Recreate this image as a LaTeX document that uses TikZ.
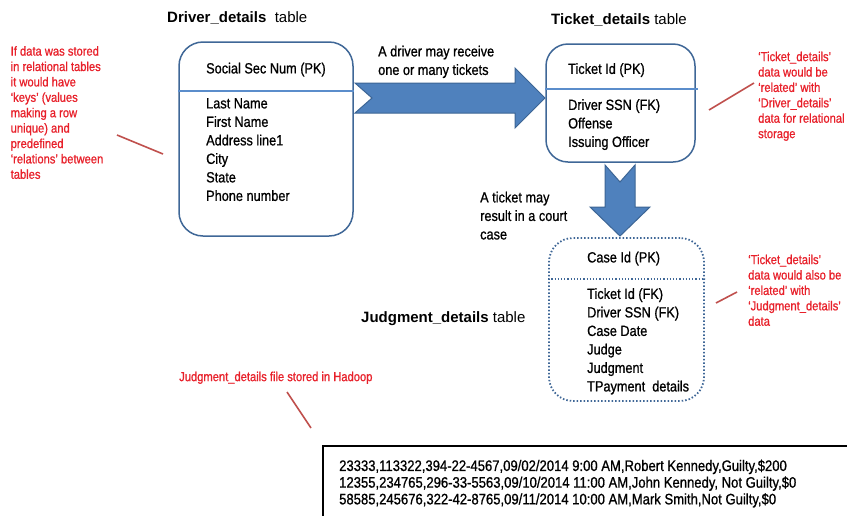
\documentclass[tikz,border=0pt]{standalone}
\usepackage{fontspec}
\setmainfont{Liberation Sans}
\newfontfamily\narrow[FakeStretch=0.86, FakeBold=0.8]{Liberation Sans}
\definecolor{boxblue}{HTML}{3F6797}
\definecolor{lineblue}{HTML}{5B8DCB}
\definecolor{arrowblue}{HTML}{4F81BD}
\definecolor{arrowedge}{HTML}{3C6595}
\definecolor{notered}{HTML}{E8202A}
\definecolor{pointred}{HTML}{C0504D}
\tikzset{
  tablebox/.style={draw=boxblue, line width=1.5pt, rounded corners=24pt, inner sep=0pt},
  divider/.style={draw=lineblue, line width=1.2pt},
  field/.style={font=\narrow\fontsize{14.8}{18.5}\selectfont, align=left, anchor=north west, inner sep=0pt},
  title/.style={font=\fontsize{15}{18}\selectfont, anchor=base west, inner sep=0pt},
  note/.style={font=\narrow\fontsize{13}{15.4}\selectfont, text=notered, align=left, anchor=north west, inner sep=0pt},
  pointer/.style={draw=pointred, line width=1.6pt},
  bigarrow/.style={fill=arrowblue, draw=arrowedge, line width=1pt, line join=miter}
}
\begin{document}
\begin{tikzpicture}[x=1pt, y=-1pt]
    \clip (0,0) rectangle (847,515);
    \fill[white] (0,0) rectangle (847,515);

    \node[title] (drvtitle) at (167,22) {\textbf{Driver\_details}\ \ table};
    \node[tablebox, minimum width=174pt, minimum height=194pt] (drv) at (266,139) {};
    \draw[divider] (drv.west |- 0,91) -- (drv.east |- 0,91);
    \node[field] (drvpk) at (206,62.5) {Social Sec Num (PK)};
    \node[field] (drvf) at (206,98) {Last Name\\First Name\\Address line1\\City\\State\\Phone number};

    \node[title] (tkttitle) at (551,24) {\textbf{Ticket\_details} table};
    \node[tablebox, rounded corners=22pt, minimum width=149pt, minimum height=118pt] (tkt) at (620.5,103) {};
    \draw[divider] (tkt.west |- 0,89) -- ([xshift=2pt]tkt.east |- 0,89);
    \node[field] (tktpk) at (568,63) {Ticket Id (PK)};
    \node[field] (tktf) at (568,99) {Driver SSN (FK)\\Offense\\Issuing Officer};

    \node[title] (jdgtitle) at (361,322.5) {\textbf{Judgment\_details} table};
    \node[tablebox, dotted, line width=1.8pt, minimum width=155pt, minimum height=163pt] (jdg) at (626.5,319.5) {};
    \draw[divider, draw=boxblue, dotted, line width=1.6pt] (jdg.west |- 0,279) -- (jdg.east |- 0,279);
    \node[field] (jdgpk) at (587,251.5) {Case Id (PK)};
    \node[field] (jdgf) at (587,288) {Ticket Id (FK)\\Driver SSN (FK)\\Case Date\\Judge\\Judgment\\TPayment\ \ details};

    \coordinate (a1) at (355,98);
    \draw[bigarrow] (a1) ++(0,-15) -- ++(160,0) -- ++(0,-15) -- ++(30,30) -- ++(-30,30)
        -- ++(0,-15) -- ++(-160,0) -- ++(17,-15) -- cycle;
    \node[field] (a1text) at (378,45.5) {A driver may receive\\one or many tickets};

    \coordinate (a2) at (605,165);
    \draw[bigarrow] (a2) -- ++(15,17) -- ++(15,-17) -- ++(0,42) -- ++(15,0) -- ++(-30,29)
        -- ++(-30,-29) -- ++(15,0) -- cycle;
    \node[field] (a2text) at (480,191.5) {A ticket may\\result in a court\\case};

    \node[note] (leftnote) at (10.5,46) {If data was stored\\in relational tables\\it would have\\‘keys’ (values\\making a row\\unique) and\\predefined\\‘relations’ between\\tables};
    \coordinate (p1a) at (117,135);
    \coordinate (p1b) at (163,154);
    \draw[pointer] (p1a) -- (p1b);

    \node[note] (rightnote1) at (758,51.5) {‘Ticket\_details’\\data would be\\‘related’ with\\‘Driver\_details’\\data for relational\\storage};
    \coordinate (p2a) at (709,110);
    \coordinate (p2b) at (754,83);
    \draw[pointer] (p2a) -- (p2b);

    \node[note] (rightnote2) at (748,254.5) {‘Ticket\_details’\\data would also be\\‘related’ with\\‘Judgment\_details’\\data};
    \coordinate (p3a) at (716,303);
    \coordinate (p3b) at (737,292);
    \draw[pointer] (p3a) -- (p3b);

    \node[note] (hdfsnote) at (179,371.5) {Judgment\_details file stored in Hadoop};
    \coordinate (p4a) at (287,392);
    \coordinate (p4b) at (311,428);
    \draw[pointer] (p4a) -- (p4b);

    \node[draw, line width=1.5pt, minimum width=560pt, minimum height=100pt, anchor=north west, inner sep=0pt] (hdfs) at (322,445) {};
    \node[field, font=\narrow\fontsize{15.2}{16.7}\selectfont] (rows) at (339,459.5) {23333,113322,394-22-4567,09/02/2014 9:00 AM,Robert Kennedy,Guilty,\$200\\12355,234765,296-33-5563,09/10/2014 11:00 AM,John Kennedy, Not Guilty,\$0\\58585,245676,322-42-8765,09/11/2014 10:00 AM,Mark Smith,Not Guilty,\$0};
\end{tikzpicture}
\end{document}
